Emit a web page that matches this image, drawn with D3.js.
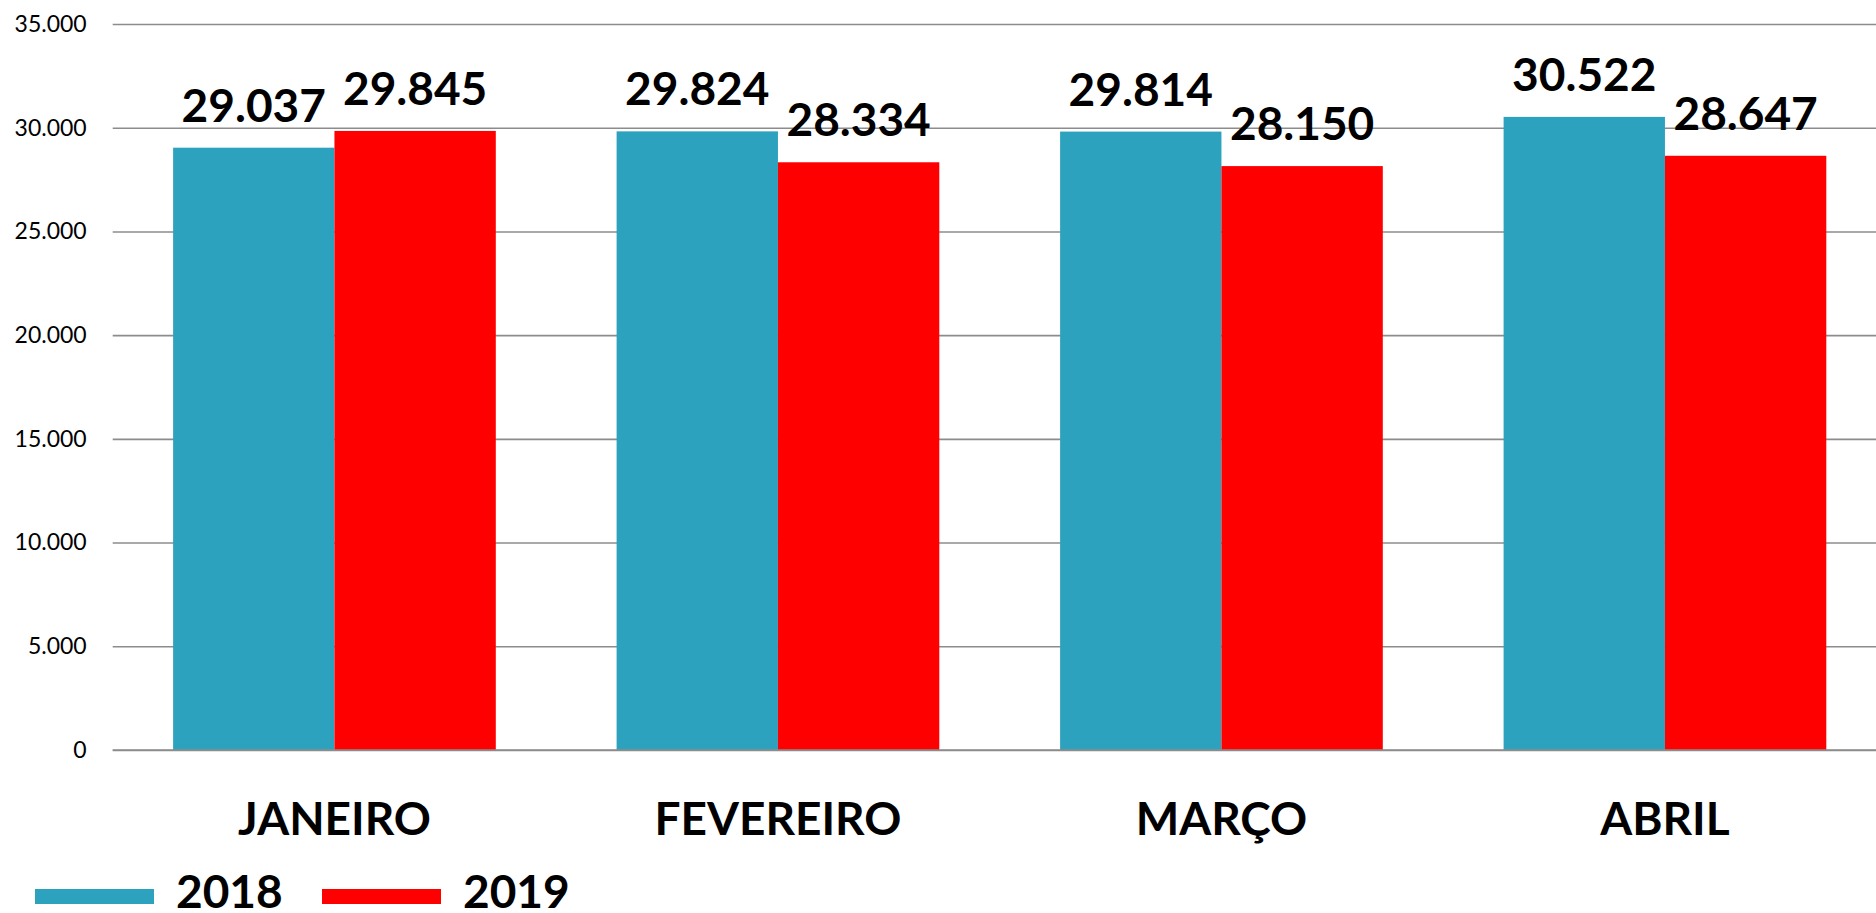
<!DOCTYPE html>
<html>
<head>
<meta charset="utf-8">
<script src="https://cdn.jsdelivr.net/npm/d3@7"></script>
<style>
  html, body { margin: 0; padding: 0; background: #fff; }
  svg { display: block; }
  text { font-family: Lato, "Open Sans", sans-serif; }
</style>
</head>
<body>
<svg id="chart" width="1876" height="913"></svg>
<script>
// Monthly totals, 2018 vs 2019
const months = ["JANEIRO", "FEVEREIRO", "MARÇO", "ABRIL"];
const seriesNames = ["2018", "2019"];
const values2018 = [29037, 29824, 29814, 30522];
const values2019 = [29845, 28334, 28150, 28647];
const yTicks = [0, 5000, 10000, 15000, 20000, 25000, 30000, 35000];
const seriesColors = ["#2da2bf", "#ff0000"];

const rows = months.map((m, i) => ({ month: m, vals: [values2018[i], values2019[i]] }));

const W = 1876, H = 913;
const plot = { left: 112.7, right: 1886.7, top: 24, bottom: 750 };

const ptBR = d3.formatLocale({ decimal: ",", thousands: ".", grouping: [3], currency: ["", ""] });
const fmt = ptBR.format(",d");

const svg = d3.select("#chart");

const y = d3.scaleLinear().domain([0, 35000]).range([plot.bottom, plot.top]);
const x0 = d3.scaleBand().domain(months).range([plot.left, plot.right])
  .paddingInner(0.2724).paddingOuter(0.1362);
const x1 = d3.scaleBand().domain(seriesNames).range([0, x0.bandwidth()]).padding(0);

// Gridlines + value axis labels
const yAxis = d3.axisLeft(y).tickValues(yTicks).tickFormat(fmt)
  .tickSize(-(W - plot.left)).tickPadding(26);
const gy = svg.append("g").attr("transform", `translate(${plot.left},0)`).call(yAxis);
gy.select(".domain").remove();
gy.selectAll(".tick line").attr("stroke", "#8c8c8c").attr("stroke-width", 1.6);
gy.selectAll(".tick text").attr("fill", "#000").attr("font-size", 23)
  .attr("font-family", "Lato, 'Open Sans', sans-serif");

// Bars
const groups = svg.append("g").selectAll("g").data(rows).join("g")
  .attr("transform", d => `translate(${x0(d.month)},0)`);

groups.selectAll("rect").data(d => d.vals.map((v, k) => ({ key: seriesNames[k], v, k })))
  .join("rect")
  .attr("x", d => x1(d.key))
  .attr("width", x1.bandwidth())
  .attr("y", d => y(d.v))
  .attr("height", d => y(0) - y(d.v))
  .attr("fill", d => seriesColors[d.k]);

// Redraw baseline above bars
svg.append("line").attr("x1", plot.left).attr("x2", W)
  .attr("y1", y(0)).attr("y2", y(0)).attr("stroke", "#8c8c8c").attr("stroke-width", 1.6);

// Value labels
groups.selectAll("text.val").data(d => d.vals.map((v, k) => ({ key: seriesNames[k], v, k })))
  .join("text").attr("class", "val")
  .attr("x", d => x1(d.key) + x1.bandwidth() / 2)
  .attr("y", d => y(d.v) - 26)
  .attr("text-anchor", "middle")
  .attr("font-size", 46).attr("font-weight", 700).attr("fill", "#000")
  .text(d => fmt(d.v));

// Category axis
const xAxis = d3.axisBottom(x0).tickSize(0);
const gx = svg.append("g").attr("transform", `translate(0,${plot.bottom})`).call(xAxis);
gx.select(".domain").remove();
gx.selectAll(".tick text").attr("y", 85).attr("dy", 0)
  .attr("font-size", 46).attr("font-weight", 700).attr("fill", "#000")
  .attr("font-family", "Lato, 'Open Sans', sans-serif");

// Legend
const legendX = [35, 322];
const legend = svg.append("g").selectAll("g").data(seriesNames).join("g")
  .attr("transform", (d, i) => `translate(${legendX[i]},0)`);
legend.append("rect").attr("x", 0).attr("y", 889).attr("width", 119).attr("height", 15)
  .attr("fill", (d, i) => seriesColors[i]);
legend.append("text").attr("x", 141).attr("y", 908)
  .attr("font-size", 46).attr("font-weight", 700).attr("fill", "#000")
  .text(d => d);
</script>
</body>
</html>
